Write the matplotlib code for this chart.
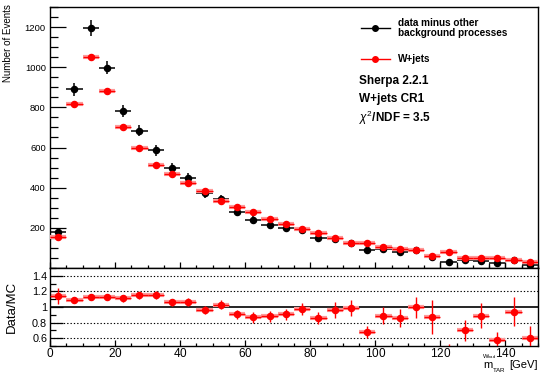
import numpy as np
import matplotlib as mpl
mpl.use('Agg')
import matplotlib.pyplot as plt
from matplotlib.ticker import MultipleLocator, FuncFormatter

plt.rcParams['font.family'] = ['Liberation Sans', 'DejaVu Sans']
plt.rcParams['mathtext.fontset'] = 'custom'
plt.rcParams['mathtext.rm'] = 'Liberation Sans'
plt.rcParams['mathtext.it'] = 'Liberation Sans:italic'
plt.rcParams['mathtext.bf'] = 'Liberation Sans:bold'

# bins of 5 GeV from 0 to 150
bin_edges = np.arange(0, 155, 5)
bin_centers = (bin_edges[:-1] + bin_edges[1:]) / 2.0

# data minus other background processes
data_sub = [178, 891, 1195, 997, 783, 684, 586, 500, 447, 372,
            344, 279, 241, 215, 197, 187, 150, 142, 126, 88,
            95, 82, 88, 57, 29, 39, 36, 27, 38, 15]
data_err = [18, 32, 38, 33, 30, 28, 27, 25, 24, 22,
            21, 19, 18, 17, 16, 15, 14, 13, 13, 12,
            12, 11, 11, 10, 10, 9, 9, 9, 9, 8]

# W+jets (Sherpa 2.2.1)
wjets = [155, 818, 1052, 881, 704, 598, 511, 470, 423, 383,
         332, 305, 277, 243, 220, 193, 175, 149, 126, 126,
         105, 95, 88, 60, 78, 51, 51, 48, 42, 30]
wjets_err = [4, 7, 8, 7, 6, 6, 5, 5, 5, 5,
             4, 4, 4, 4, 4, 4, 3, 3, 3, 3,
             3, 3, 3, 3, 3, 2, 2, 2, 2, 2]

# Data/MC ratio (bin 25 is below the range)
ratio = [1.14, 1.09, 1.13, 1.13, 1.11, 1.15, 1.15, 1.06, 1.06, 0.96,
         1.03, 0.905, 0.87, 0.88, 0.905, 0.975, 0.86, 0.96, 0.985, 0.68,
         0.89, 0.86, 0.995, 0.87, 0.37, 0.70, 0.89, 0.58, 0.94, 0.60]
ratio_err = [0.10, 0.04, 0.03, 0.035, 0.04, 0.045, 0.05, 0.045, 0.05, 0.05,
             0.06, 0.06, 0.07, 0.07, 0.07, 0.08, 0.08, 0.10, 0.10, 0.08,
             0.11, 0.12, 0.13, 0.22, 0.15, 0.13, 0.16, 0.10, 0.19, 0.15]

# bins drawn with the histogram outline
step_bins = [24, 27, 29]

ratio_lines = [0.6, 0.8, 1.2, 1.4]

fig = plt.figure(figsize=(5.4, 3.74), dpi=100)
ax = fig.add_axes([0.0926, 0.2834, 0.9037, 0.698])
rax = fig.add_axes([0.0926, 0.0749, 0.9037, 0.2086])

half = 2.5

# histogram outline for a few low bins
for i in step_bins:
    ax.vlines([bin_edges[i], bin_edges[i + 1]], 0, data_sub[i], color='black', lw=0.9)

ax.errorbar(bin_centers, data_sub, xerr=half, yerr=data_err, fmt='o', color='black',
            ms=4.4, elinewidth=1.1, capsize=0, zorder=3)
ax.errorbar(bin_centers, wjets, xerr=half, fmt='none', ecolor='#ff9a9a',
            elinewidth=3, capsize=0, zorder=3.5)
ax.errorbar(bin_centers, wjets, xerr=half, yerr=wjets_err, fmt='o', color='red',
            ms=4.4, elinewidth=1.0, capsize=0, zorder=4)

ax.set_xlim(0, 150)
ax.set_ylim(0, 1300)
ax.yaxis.set_minor_locator(MultipleLocator(50))
ax.xaxis.set_major_locator(MultipleLocator(20))
ax.xaxis.set_minor_locator(MultipleLocator(5))
ax.set_yticks([0, 200, 400, 600, 800, 1000, 1200])
ax.set_yticklabels(['', '200', '400', '600', '800', '1000', '1200'])
ax.tick_params(axis='y', which='major', direction='in', length=11.5, width=0.9,
               labelsize=6.8, right=False, pad=3)
ax.tick_params(axis='y', which='minor', direction='in', length=5.8, width=0.9, right=False)
ax.tick_params(axis='x', which='major', direction='in', length=4.5, width=0.9,
               labelbottom=False, top=False)
ax.tick_params(axis='x', which='minor', direction='in', length=2.3, width=0.9, top=False)
ax.set_ylabel('Number of Events', fontsize=7)
ax.yaxis.set_label_coords(-0.076, 0.86)
for s in ax.spines.values():
    s.set_linewidth(1.0)

# legend drawn by hand, ROOT style
ax.plot([95.5, 104.5], [1195, 1195], color='black', lw=1.0)
ax.plot([100], [1195], 'o', color='black', ms=4)
ax.text(107, 1220, 'data minus other', fontsize=7.2, fontweight='bold', va='center')
ax.text(107, 1170, 'background processes', fontsize=7.2, fontweight='bold', va='center')
ax.plot([95.5, 104.5], [1040, 1040], color='red', lw=1.0)
ax.plot([100], [1040], 'o', color='red', ms=4)
ax.text(107, 1040, 'W+jets', fontsize=7.2, fontweight='bold', va='center')

ax.text(95, 931, 'Sherpa 2.2.1', fontsize=8.5, fontweight='bold', va='center')
ax.text(95, 842, 'W+jets CR1', fontsize=8.5, fontweight='bold', va='center')
ax.text(95, 747, r'$\chi^{2}$/NDF = 3.5', fontsize=8.5, fontweight='bold', va='center')

# ratio panel
for y in ratio_lines:
    rax.axhline(y, color='black', ls=(0, (1.2, 1.8)), lw=0.8, zorder=1)
rax.axhline(1.0, color='black', lw=1.2, zorder=1)
rax.errorbar(bin_centers, ratio, xerr=half, fmt='none', ecolor='#ff9a9a',
             elinewidth=3, capsize=0, zorder=2)
rax.errorbar(bin_centers, ratio, xerr=half, yerr=ratio_err, fmt='o', color='red',
             ecolor='red', ms=4.4, elinewidth=1.0, capsize=0, zorder=3)
rax.set_xlim(0, 150)
rax.set_ylim(0.5, 1.5)
rax.yaxis.set_minor_locator(MultipleLocator(0.1))
rax.xaxis.set_major_locator(MultipleLocator(20))
rax.xaxis.set_minor_locator(MultipleLocator(5))
# mathtext labels keep the boxes tight to the digits
rax.xaxis.set_major_formatter(FuncFormatter(lambda v, p: r'$\mathrm{%d}$' % v))
rax.set_yticks([0.6, 0.8, 1.0, 1.2, 1.4])
rax.set_yticklabels(['0.6', '0.8', '1', '1.2', '1.4'])
rax.tick_params(axis='y', which='major', direction='in', length=9.5, width=0.9,
                labelsize=7.8, right=False, pad=2)
rax.tick_params(axis='y', which='minor', direction='in', length=4.3, width=0.9, right=False)
rax.tick_params(axis='x', which='major', direction='in', length=4.5, width=0.9,
                labelsize=8.5, top=False, pad=1)
rax.tick_params(axis='x', which='minor', direction='in', length=2.3, width=0.9, top=False)
rax.set_ylabel('Data/MC', fontsize=9.5)
rax.yaxis.set_label_coords(-0.066, 0.5)
for s in rax.spines.values():
    s.set_linewidth(1.0)

# x axis title built from pieces: m, TAR subscript, W_had superscript, [GeV]
fig.text(0.8944, 0.0160, r'$\mathrm{m}$', fontsize=8, ha='left', va='baseline')
fig.text(0.9120, 0.0054, r'$\mathrm{TAR}$', fontsize=4.5, ha='left', va='baseline')
fig.text(0.8935, 0.0428, r'$\mathrm{W}_{\mathrm{had}}$', fontsize=4.2, ha='left', va='baseline')
fig.text(0.996, 0.0160, '[GeV]', fontsize=8, ha='right', va='baseline')

plt.savefig('out.png', dpi=100)
